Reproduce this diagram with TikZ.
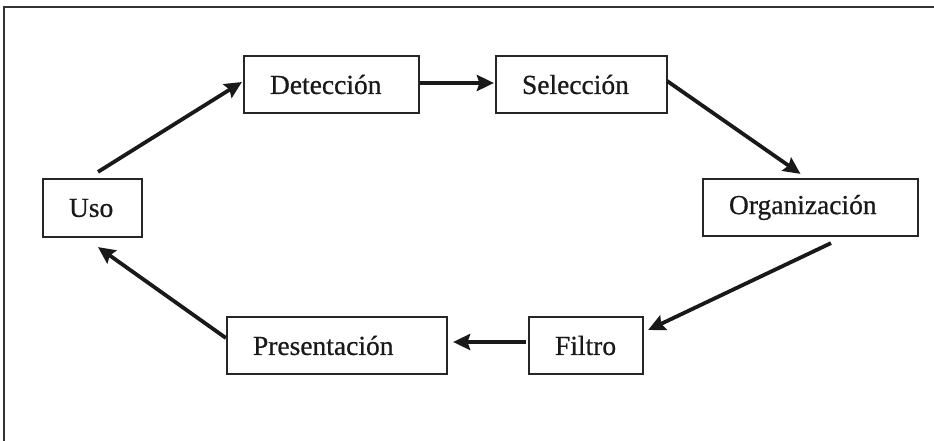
\documentclass[tikz,border=0pt]{standalone}
\usepackage{fontspec}
\setmainfont{Liberation Serif}
\newfontfamily\stagefont[FakeBold=0.7]{Liberation Serif}
\usetikzlibrary{arrows.meta,calc}
\begin{document}
\begin{tikzpicture}[x=1pt,y=-1pt,
  stagebox/.style={draw=black!85,line width=2.2pt,fill=white,inner xsep=25pt,inner ysep=0pt,
    align=left,font=\stagefont\fontsize{27.5}{30}\selectfont,text=black!90},
  flow/.style={line width=3.8pt,draw=black!90,-{Stealth[length=17pt,width=16pt,inset=2.5pt]}},
  frame/.style={line width=2pt,draw=black!80}]
\useasboundingbox (0,0) rectangle (934,441);
\fill[white] (0,0) rectangle (934,441);
\draw[frame] (4,441) -- (4,7) -- (934,7);
\node[stagebox,minimum width=175pt,minimum height=57pt,text width=123pt] (det) at (331.5,84.5) {Detección};
\node[stagebox,minimum width=171pt,minimum height=57pt,text width=119pt] (sel) at (581.5,84.5) {Selección};
\node[stagebox,minimum width=99pt,minimum height=58pt,text width=47pt] (uso) at (92.5,208) {Uso};
\node[stagebox,minimum width=215pt,minimum height=57pt,text width=163pt] (org) at (810.5,207.5) {Organización};
\node[stagebox,minimum width=220pt,minimum height=57pt,text width=168pt] (pre) at (337,345.5) {Presentación};
\node[stagebox,minimum width=114pt,minimum height=57pt,text width=62pt] (fil) at (586,345.5) {Filtro};
\draw[flow] ($(uso.north)+(5.5,-6)$) -- ($(det.west)+(-1,-2.5)$);
\draw[flow] ($(det.east)+(0,-1.5)$) -- ($(sel.west)+(-1,-1.5)$);
\draw[flow] ($(sel.east)+(-1,-3.5)$) -- ($(org.north)+(-10,-4)$);
\draw[flow] ($(org.south)+(20.5,6)$) -- ($(fil.east)+(4,-15.5)$);
\draw[flow] ($(fil.west)+(-2,-3.5)$) -- ($(pre.east)+(5,-3.5)$);
\draw[flow] ($(pre.west)+(0,-7.5)$) -- ($(uso.south)+(5.5,9)$);
\end{tikzpicture}
\end{document}
